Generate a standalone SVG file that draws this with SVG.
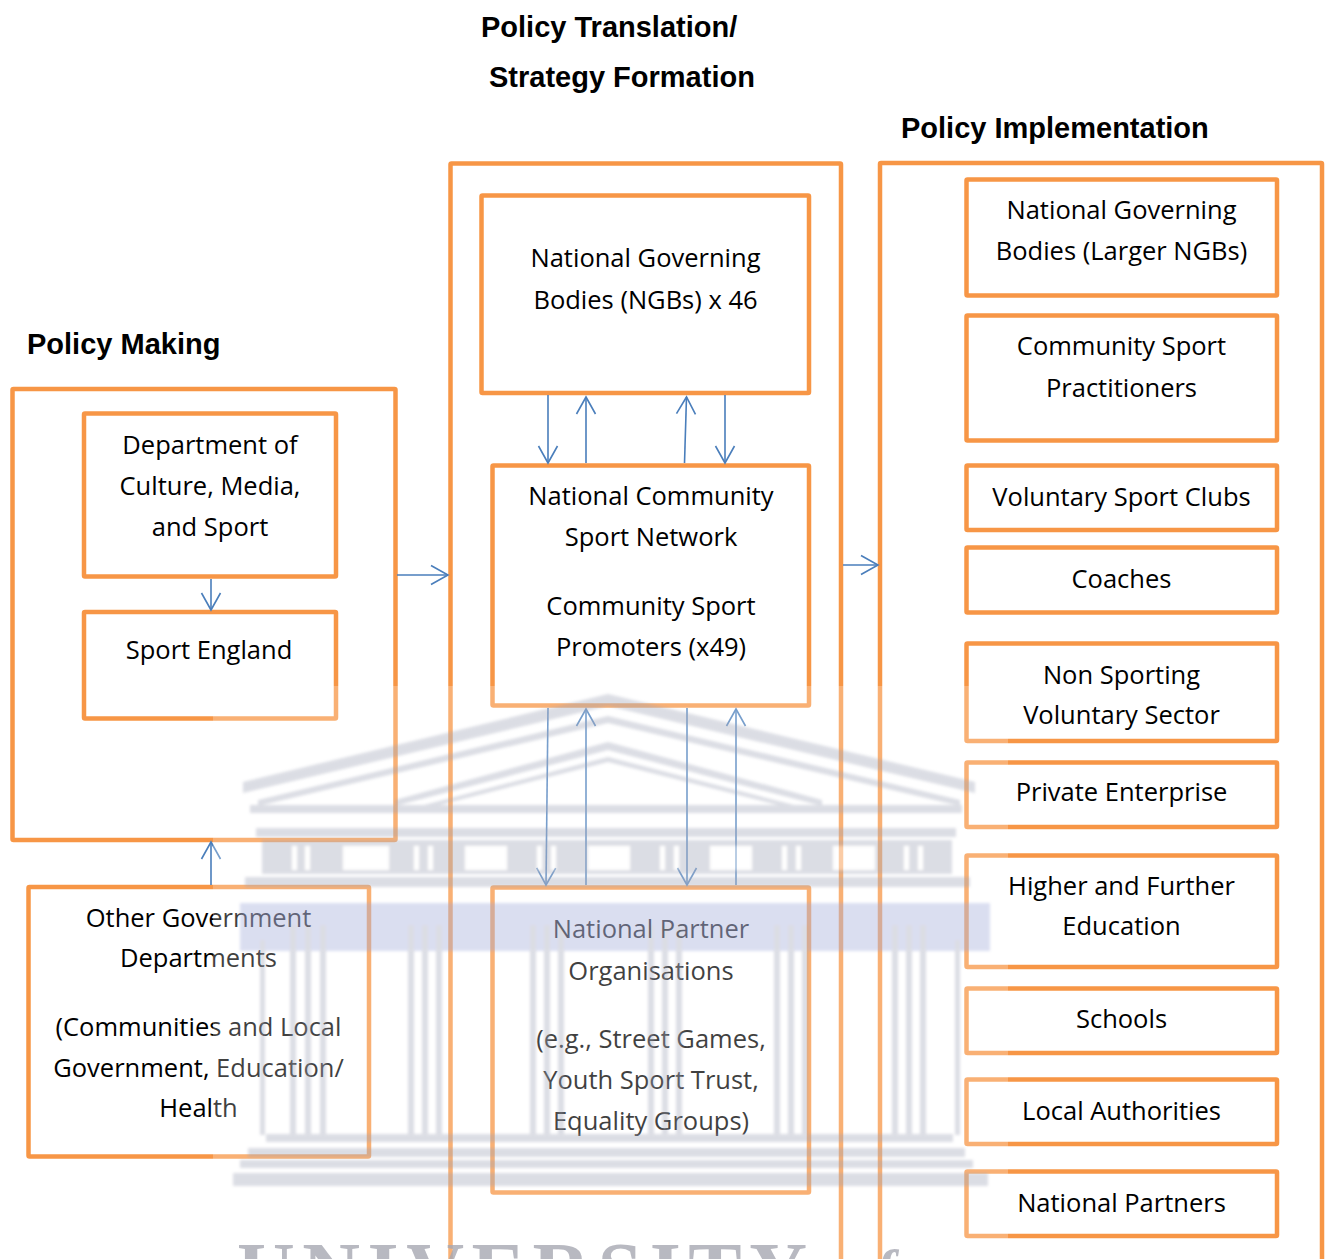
<svg xmlns="http://www.w3.org/2000/svg" width="1328" height="1259" viewBox="0 0 1328 1259">
  <style>
    .frame { fill: #ffffff; stroke: #F79646; stroke-width: 4.5; }
    .lbl { font-family: "Open Sans", "Liberation Sans", sans-serif; font-size: 25.5px; fill: #000000; text-anchor: middle; }
    .head { font-family: "Liberation Sans", Arial, sans-serif; font-size: 29px; font-weight: bold; fill: #000000; }
    .link { stroke: #4A7EBB; stroke-width: 1.6; fill: none; marker-end: url(#open); }
    .wm { fill: #9ea3b6; }
    .wmw { fill: #ffffff; }
  </style>
  <defs>
    <marker id="open" viewBox="-20 -12 24 24" markerWidth="24" markerHeight="24" refX="0" refY="0" orient="auto" markerUnits="userSpaceOnUse">
      <path d="M -17,-9.5 L 0,0 L -17,9.5" fill="none" stroke="#4A7EBB" stroke-width="1.6"/>
    </marker>
    <filter id="soft" x="-5%" y="-5%" width="110%" height="110%">
      <feGaussianBlur stdDeviation="1.8"/>
    </filter>
  </defs>

  <rect x="0" y="0" width="1328" height="1259" fill="#ffffff"/>

  <!-- column headings -->
  <text class="head" x="481" y="37">Policy Translation/</text>
  <text class="head" x="489" y="87">Strategy Formation</text>
  <text class="head" x="901" y="138">Policy Implementation</text>
  <text class="head" x="27" y="354">Policy Making</text>

  <!-- container frames -->
  <g id="policy-making">
    <rect class="frame" x="12.5" y="389" width="383" height="451" rx="1"/>
  </g>
  <g id="policy-translation">
    <rect class="frame" x="450.5" y="163.5" width="390.5" height="1120" rx="1"/>
  </g>
  <g id="policy-implementation">
    <rect class="frame" x="880" y="163" width="442" height="1120" rx="1"/>
  </g>

  <!-- policy making -->
  <g id="dcms">
    <rect class="frame" x="84" y="413.5" width="252" height="163" rx="1"/>
    <text class="lbl" x="210" y="454">Department of</text>
    <text class="lbl" x="210" y="495">Culture, Media,</text>
    <text class="lbl" x="210" y="536">and Sport</text>
  </g>
  <g id="sport-england">
    <rect class="frame" x="84" y="612" width="252" height="106.5" rx="1"/>
    <text class="lbl" x="209" y="659">Sport England</text>
  </g>
  <g id="other-gov">
    <rect class="frame" x="28.5" y="887" width="340.5" height="269.5" rx="1"/>
    <text class="lbl" x="198.5" y="927">Other Government</text>
    <text class="lbl" x="198.5" y="967">Departments</text>
    <text class="lbl" x="198.5" y="1036">(Communities and Local</text>
    <text class="lbl" x="198.5" y="1077">Government, Education/</text>
    <text class="lbl" x="198.5" y="1117">Health</text>
  </g>

  <!-- policy translation -->
  <g id="ngb-46">
    <rect class="frame" x="481.5" y="195.5" width="327.5" height="197.5" rx="1"/>
    <text class="lbl" x="645.5" y="267">National Governing</text>
    <text class="lbl" x="645.5" y="309">Bodies (NGBs) x 46</text>
  </g>
  <g id="ncsn">
    <rect class="frame" x="492.5" y="465.5" width="316.5" height="240" rx="1"/>
    <text class="lbl" x="651" y="505">National Community</text>
    <text class="lbl" x="651" y="546">Sport Network</text>
    <text class="lbl" x="651" y="615">Community Sport</text>
    <text class="lbl" x="651" y="656">Promoters (x49)</text>
  </g>
  <g id="partner-orgs">
    <rect class="frame" x="492.5" y="887.5" width="316.5" height="305" rx="1"/>
    <text class="lbl" x="651" y="938">National Partner</text>
    <text class="lbl" x="651" y="980">Organisations</text>
    <text class="lbl" x="651" y="1048">(e.g., Street Games,</text>
    <text class="lbl" x="651" y="1089">Youth Sport Trust,</text>
    <text class="lbl" x="651" y="1130">Equality Groups)</text>
  </g>

  <!-- policy implementation -->
  <g id="ngb-larger">
    <rect class="frame" x="966.5" y="179.5" width="310.5" height="116" rx="1"/>
    <text class="lbl" x="1121.5" y="219">National Governing</text>
    <text class="lbl" x="1121.5" y="260">Bodies (Larger NGBs)</text>
  </g>
  <g id="practitioners">
    <rect class="frame" x="966.5" y="315.5" width="310.5" height="125" rx="1"/>
    <text class="lbl" x="1121.5" y="355">Community Sport</text>
    <text class="lbl" x="1121.5" y="397">Practitioners</text>
  </g>
  <g id="clubs">
    <rect class="frame" x="966.5" y="465.5" width="310.5" height="64.5" rx="1"/>
    <text class="lbl" x="1121.5" y="506">Voluntary Sport Clubs</text>
  </g>
  <g id="coaches">
    <rect class="frame" x="966.5" y="547.5" width="310.5" height="65" rx="1"/>
    <text class="lbl" x="1121.5" y="588">Coaches</text>
  </g>
  <g id="non-sporting">
    <rect class="frame" x="966.5" y="643.5" width="310.5" height="97.5" rx="1"/>
    <text class="lbl" x="1121.5" y="684">Non Sporting</text>
    <text class="lbl" x="1121.5" y="724">Voluntary Sector</text>
  </g>
  <g id="private">
    <rect class="frame" x="966.5" y="762.5" width="310.5" height="64.5" rx="1"/>
    <text class="lbl" x="1121.5" y="801">Private Enterprise</text>
  </g>
  <g id="higher-ed">
    <rect class="frame" x="966.5" y="855.5" width="310.5" height="111.5" rx="1"/>
    <text class="lbl" x="1121.5" y="895">Higher and Further</text>
    <text class="lbl" x="1121.5" y="935">Education</text>
  </g>
  <g id="schools">
    <rect class="frame" x="966.5" y="988.5" width="310.5" height="64.5" rx="1"/>
    <text class="lbl" x="1121.5" y="1028">Schools</text>
  </g>
  <g id="local-auth">
    <rect class="frame" x="966.5" y="1079.5" width="310.5" height="64.5" rx="1"/>
    <text class="lbl" x="1121.5" y="1120">Local Authorities</text>
  </g>
  <g id="national-partners">
    <rect class="frame" x="966.5" y="1171.5" width="310.5" height="64.5" rx="1"/>
    <text class="lbl" x="1121.5" y="1212">National Partners</text>
  </g>

  <!-- connectors -->
  <g id="connectors">
    <line class="link" x1="211" y1="579" x2="211" y2="610"/>
    <line class="link" x1="211" y1="885" x2="211" y2="842"/>
    <line class="link" x1="397" y1="575" x2="448" y2="575"/>
    <line class="link" x1="843" y1="565" x2="878" y2="565"/>
    <line class="link" x1="548" y1="395" x2="548" y2="463"/>
    <line class="link" x1="586" y1="463" x2="586" y2="397"/>
    <line class="link" x1="684.5" y1="463" x2="686.5" y2="397"/>
    <line class="link" x1="725" y1="395" x2="725" y2="463"/>
    <line class="link" x1="548" y1="708" x2="546" y2="885"/>
    <line class="link" x1="586" y1="885" x2="586" y2="709"/>
    <line class="link" x1="687" y1="708" x2="687" y2="885"/>
    <line class="link" x1="736" y1="885" x2="736" y2="709"/>
  </g>

  <!-- faint building watermark laid over the lower half -->
  <g id="watermark">
    <rect x="213" y="686" width="795" height="573" fill="#ffffff" opacity="0.25"/>
    <g opacity="0.36" filter="url(#soft)">
      <!-- pediment -->
      <path class="wm" d="M 243,782 L 608,694 L 975,782 L 975,793 L 608,706 L 243,793 Z"/>
      <path class="wm" d="M 258,800 L 608,716 L 960,800 L 960,806 L 608,723 L 258,806 Z"/>
      <path class="wm" d="M 395,800 L 608,742 L 822,800 L 822,806 L 608,750 L 395,806 Z"/>
      <path class="wm" d="M 420,806 L 608,757 L 798,806 L 798,810 L 608,762 L 420,810 Z"/>
      <!-- cornice -->
      <rect class="wm" x="250" y="805" width="712" height="8"/>
      <rect class="wm" x="256" y="828" width="700" height="9"/>
      <!-- frieze -->
      <rect class="wm" x="262" y="840" width="690" height="34"/>
      <rect class="wmw" x="343" y="846" width="46" height="24"/>
      <rect class="wmw" x="465" y="846" width="42" height="24"/>
      <rect class="wmw" x="588" y="846" width="42" height="24"/>
      <rect class="wmw" x="710" y="846" width="42" height="24"/>
      <rect class="wmw" x="833" y="846" width="42" height="24"/>
      <rect class="wmw" x="292" y="846" width="5" height="24"/>
      <rect class="wmw" x="305" y="846" width="5" height="24"/>
      <rect class="wmw" x="414" y="846" width="5" height="24"/>
      <rect class="wmw" x="428" y="846" width="5" height="24"/>
      <rect class="wmw" x="537" y="846" width="5" height="24"/>
      <rect class="wmw" x="551" y="846" width="5" height="24"/>
      <rect class="wmw" x="660" y="846" width="5" height="24"/>
      <rect class="wmw" x="674" y="846" width="5" height="24"/>
      <rect class="wmw" x="782" y="846" width="5" height="24"/>
      <rect class="wmw" x="796" y="846" width="5" height="24"/>
      <rect class="wmw" x="904" y="846" width="5" height="24"/>
      <rect class="wmw" x="918" y="846" width="5" height="24"/>
      <rect class="wm" x="245" y="877" width="725" height="10"/>
      <!-- capitals band -->
      <rect x="240" y="903" width="750" height="48" fill="#9ba5d8"/>
      <!-- columns -->
      <g class="wm">
        <rect x="290" y="925" width="6" height="210"/><rect x="305" y="925" width="6" height="210"/><rect x="320" y="925" width="6" height="210"/>
        <rect x="408" y="925" width="6" height="210"/><rect x="422" y="925" width="6" height="210"/><rect x="436" y="925" width="6" height="210"/>
        <rect x="530" y="925" width="6" height="210"/><rect x="544" y="925" width="6" height="210"/><rect x="558" y="925" width="6" height="210"/>
        <rect x="648" y="925" width="6" height="210"/><rect x="662" y="925" width="6" height="210"/><rect x="676" y="925" width="6" height="210"/>
        <rect x="774" y="925" width="6" height="210"/><rect x="788" y="925" width="6" height="210"/><rect x="802" y="925" width="6" height="210"/>
        <rect x="892" y="925" width="6" height="210"/><rect x="906" y="925" width="6" height="210"/><rect x="920" y="925" width="6" height="210"/>
        <rect x="260" y="940" width="5" height="195"/><rect x="955" y="940" width="5" height="195"/>
      </g>
      <!-- steps -->
      <rect class="wm" x="266" y="1134" width="687" height="8"/>
      <rect class="wm" x="248" y="1148" width="717" height="9"/>
      <rect class="wm" x="240" y="1160" width="733" height="8"/>
      <rect class="wm" x="233" y="1173" width="755" height="13"/>
    </g>
    <text x="237" y="1298" textLength="570" lengthAdjust="spacing" font-family="Liberation Serif, serif" font-weight="bold" font-size="80" fill="#a7a8b2" opacity="0.8">UNIVERSITY</text>
    <text x="846" y="1290" font-family="Liberation Serif, serif" font-style="italic" font-weight="bold" font-size="58" fill="#a7a8b2" opacity="0.8">of</text>
  </g>
</svg>
